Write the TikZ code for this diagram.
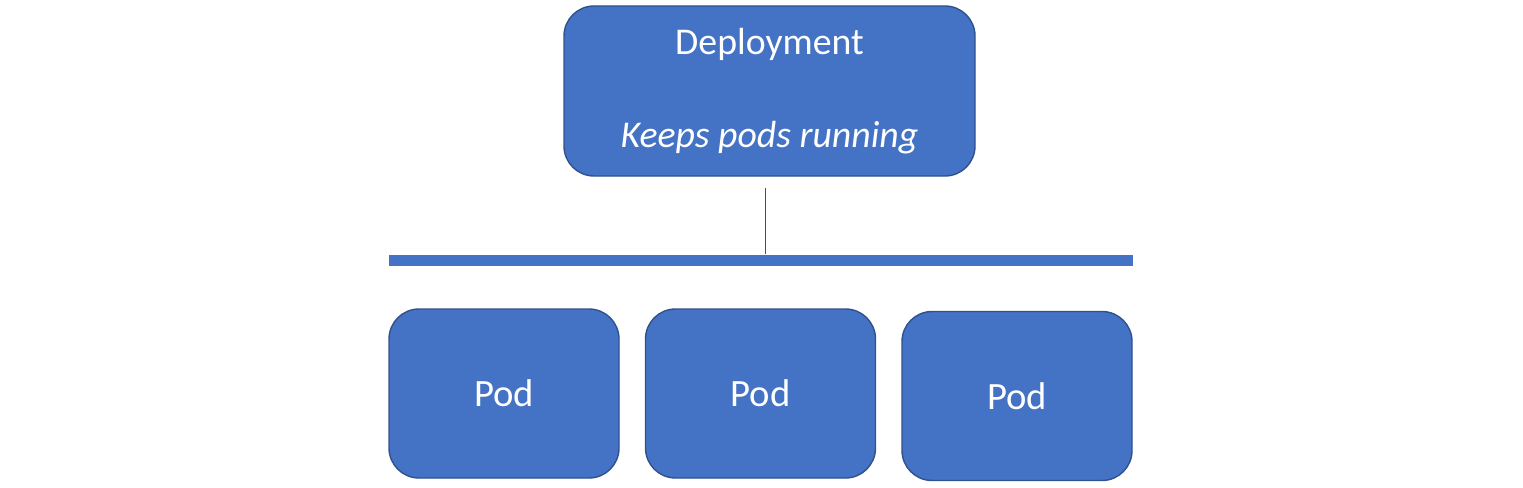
\documentclass[tikz,border=0pt]{standalone}
\usepackage{fontspec}
\setmainfont{Carlito}
\usetikzlibrary{positioning}
\definecolor{boxblue}{RGB}{68,114,196}
\definecolor{edgeblue}{RGB}{47,82,143}

\begin{document}
\begin{tikzpicture}[node distance=5.13cm,
				main node/.style={rectangle,rounded corners=0.6cm,fill=boxblue,draw=edgeblue,thick,text=white,align=center},
				pod node/.style={main node,minimum width=4.6cm,minimum height=3.38cm,font=\fontsize{22}{26}\selectfont}]
				
				\useasboundingbox (0,0) rectangle (30.46,-9.76);
				
				\node[main node,minimum width=8.22cm,minimum height=3.4cm,font=\fontsize{21.5}{26}\selectfont] (deploy) at (15.39,-1.82) {Deployment\\[0.95cm]\textit{Keeps pods running}};
				\node[pod node] (pod1) at (10.08,-7.87) {Pod};
				\node[pod node] (pod2) [right of=pod1] {Pod};
				\node[pod node] (pod3) [right of=pod2,yshift=-0.05cm] {Pod};
				
				\coordinate (barL) at (7.78,-5.2);
				\coordinate (barR) at (22.66,-5.2);
				\coordinate (barM) at (15.3,-5.08);
				
				\draw[boxblue,line width=0.22cm] (barL) -- (barR);
				\draw[edgeblue,line width=0.5pt] (deploy.south) ++(-0.09,-0.22) -- (barM);
\end{tikzpicture}
\end{document}
